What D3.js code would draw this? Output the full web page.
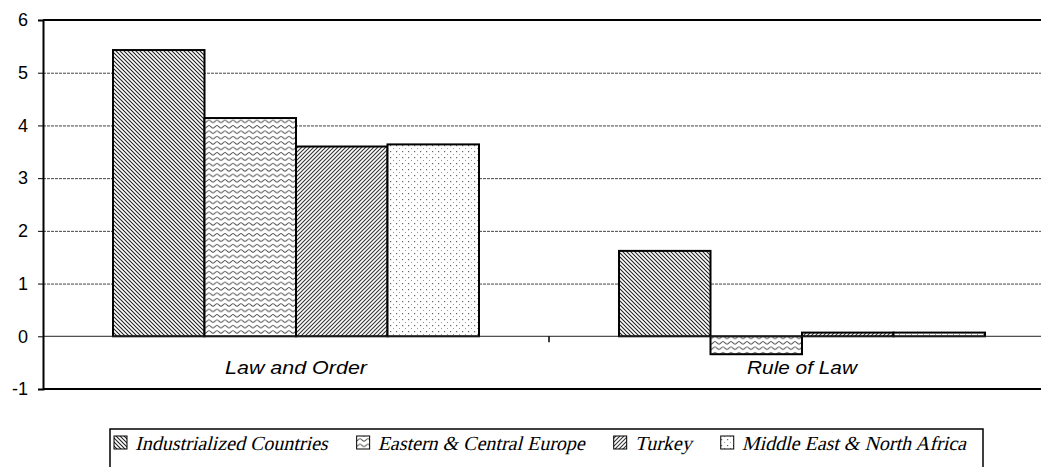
<!DOCTYPE html>
<html><head><meta charset="utf-8">
<script src="https://cdn.jsdelivr.net/npm/d3@7"></script>
<style>body{margin:0;background:#fff}svg{display:block}
.lgt{font-family:"Liberation Serif","Times New Roman",serif;font-style:normal;font-size:20px}</style>
</head><body>
<svg id="c" width="1041" height="467"></svg>
<script>
const categories = ["Law and Order", "Rule of Law"];
const seriesNames = ["Industrialized Countries", "Eastern & Central Europe", "Turkey", "Middle East & North Africa"];
const industrialized = [5.43, 1.62];
const easternCentral = [4.14, -0.34];
const turkey = [3.60, 0.07];
const mena = [3.64, 0.07];
const yTicks = [-1, 0, 1, 2, 3, 4, 5, 6];
const seriesValues = [industrialized, easternCentral, turkey, mena];
const patternIds = ["pInd", "pEce", "pTur", "pMena"];

(function(){
const svg = d3.select("#c");
const defs = svg.append("defs");
let p = defs.append("pattern").attr("id","pInd").attr("patternUnits","userSpaceOnUse").attr("width",4).attr("height",4);
p.append("rect").attr("width",4).attr("height",4).attr("fill","#fff");
p.append("path").attr("d","M-1,-1 L5,5 M-1,3 L1,5 M3,-1 L5,1").attr("stroke","#222").attr("stroke-width",1.1);
p = defs.append("pattern").attr("id","pTur").attr("patternUnits","userSpaceOnUse").attr("width",4).attr("height",4);
p.append("rect").attr("width",4).attr("height",4).attr("fill","#fff");
p.append("path").attr("d","M-1,5 L5,-1 M-1,1 L1,-1 M3,5 L5,3").attr("stroke","#333").attr("stroke-width",1.1);
p = defs.append("pattern").attr("id","pEce").attr("patternUnits","userSpaceOnUse").attr("width",8).attr("height",5.4);
p.append("rect").attr("width",8).attr("height",5.4).attr("fill","#fff");
p.append("path").attr("d","M0,1.3 C1.3,1.3 2.7,3.8 4,3.8 C5.3,3.8 6.7,1.3 8,1.3").attr("fill","none").attr("stroke","#444").attr("stroke-width",1);
p = defs.append("pattern").attr("id","pMena").attr("patternUnits","userSpaceOnUse").attr("width",6).attr("height",6);
p.append("rect").attr("width",6).attr("height",6).attr("fill","#fff");
p.append("rect").attr("x",1).attr("y",1).attr("width",1.2).attr("height",1.2).attr("fill","#666");
p.append("rect").attr("x",4).attr("y",4).attr("width",1).attr("height",1).attr("fill","#999");

const left = 43, plotW = 1012, plotTop = 20, plotBottom = 389;
const x0 = d3.scaleBand().domain(categories).range([left, left + plotW]).paddingInner(0).paddingOuter(0);
const groupW = x0.bandwidth() * 366 / 506;
const x1 = d3.scaleBand().domain(d3.range(seriesNames.length)).range([0, groupW]).padding(0);
const y = d3.scaleLinear().domain([-1, 6]).range([plotBottom, plotTop]);

svg.append("g").selectAll("line").data(yTicks.filter(t => t > 0 && t < 6)).join("line")
  .attr("x1", left).attr("x2", 1041).attr("y1", d => y(d) + 0.5).attr("y2", d => y(d) + 0.5)
  .attr("stroke", "#444").attr("stroke-width", 1).attr("stroke-dasharray", "3,1");

const groups = svg.append("g").selectAll("g").data(categories).join("g")
  .attr("transform", d => `translate(${x0(d) + (x0.bandwidth() - groupW) / 2},0)`);
groups.selectAll("rect").data((c, ci) => seriesValues.map((s, si) => ({si, v: s[ci]}))).join("rect")
  .attr("x", d => x1(d.si)).attr("width", x1.bandwidth())
  .attr("y", d => y(Math.max(0, d.v))).attr("height", d => Math.abs(y(d.v) - y(0)))
  .attr("fill", d => `url(#${patternIds[d.si]})`).attr("stroke", "#000").attr("stroke-width", 2);

svg.append("line").attr("x1", left).attr("x2", 1041).attr("y1", y(0)).attr("y2", y(0)).attr("stroke", "#222").attr("stroke-width", 1);
svg.append("g").selectAll("line").data([x0(categories[1])]).join("line")
  .attr("x1", d => d).attr("x2", d => d).attr("y1", y(0)).attr("y2", y(0) + 6).attr("stroke", "#000").attr("stroke-width", 1.5);
const catWidths = [142, 110];
svg.append("g").selectAll("text").data(categories).join("text")
  .attr("x", d => x0(d) + x0.bandwidth() / 2).attr("y", y(0) + 38)
  .attr("text-anchor", "middle").attr("font-family", "Liberation Sans, Arial, sans-serif")
  .attr("font-style", "italic").attr("font-size", 18)
  .attr("textLength", (d, i) => catWidths[i]).attr("lengthAdjust", "spacingAndGlyphs").text(d => d);

svg.append("line").attr("x1", left).attr("x2", 1041).attr("y1", y(6)).attr("y2", y(6)).attr("stroke", "#000").attr("stroke-width", 2);
svg.append("line").attr("x1", left).attr("x2", 1041).attr("y1", y(-1)).attr("y2", y(-1)).attr("stroke", "#000").attr("stroke-width", 2);

const yAxis = d3.axisLeft(y).tickValues(yTicks).tickSize(5).tickPadding(10).tickFormat(d => String(d));
const ya = svg.append("g").attr("transform", `translate(${left},0)`).call(yAxis);
ya.select(".domain").attr("stroke", "#000").attr("stroke-width", 2);
ya.selectAll(".tick line").attr("stroke", "#000");
ya.selectAll("text").attr("font-family", "Liberation Sans, Arial, sans-serif").attr("font-size", 18).attr("fill", "#000");

const lg = svg.append("g");
lg.append("rect").attr("x", 110).attr("y", 429).attr("width", 873).attr("height", 60)
  .attr("fill", "#fff").attr("stroke", "#000").attr("stroke-width", 1.5);
const holders = seriesNames.map(() => lg.append("g"));
const texts = seriesNames.map((name, i) => holders[i].append("text").attr("class", "lgt")
  .attr("transform", "skewX(-14)").attr("x", 0).attr("y", 0).attr("fill", "#000").text(name));
const widths = texts.map(t => t.node().getComputedTextLength());
const sw = 13, swGap = 8, startX = 114, endX = 966;
const targetW = endX - startX - seriesNames.length * (sw + swGap) - 3 * 14;
const scale = Math.min(1, targetW / d3.sum(widths));
texts.forEach((t, i) => { if (scale < 1) t.attr("textLength", widths[i] * scale).attr("lengthAdjust", "spacingAndGlyphs"); });
const w2 = widths.map(w => w * scale);
const gap = (endX - startX - d3.sum(w2) - seriesNames.length * (sw + swGap)) / (seriesNames.length - 1);
let lx = startX;
seriesNames.forEach((name, i) => {
  lg.append("rect").attr("x", lx).attr("y", 436).attr("width", sw).attr("height", sw)
    .attr("fill", `url(#${patternIds[i]})`).attr("stroke", "#000").attr("stroke-width", 1);
  holders[i].attr("transform", `translate(${lx + sw + swGap},450)`);
  lx += sw + swGap + w2[i] + gap;
});
})();
</script>
</body></html>
